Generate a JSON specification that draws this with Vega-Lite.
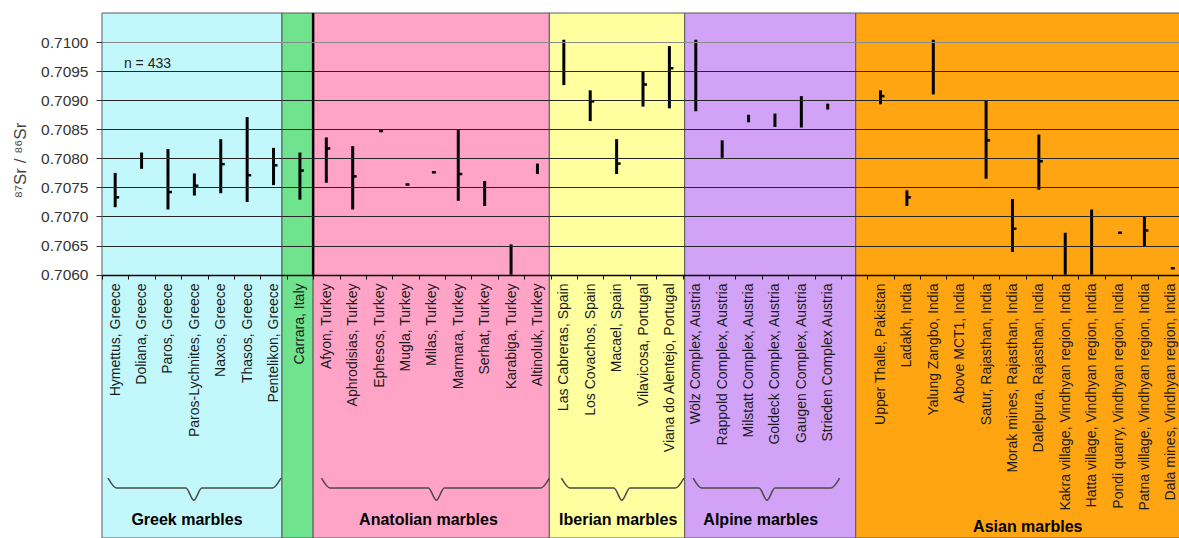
{
  "$schema": "https://vega.github.io/schema/vega-lite/v6.json",
  "width": 1077,
  "height": 525,
  "autosize": {"type": "none"},
  "padding": {"left": 102, "top": 13, "right": 0, "bottom": 0},
  "background": "white",
  "config": {"font": "Liberation Sans", "view": {"stroke": null}},
  "datasets": {
    "sites": [
      {"s": "Hymettus, Greece", "min": 0.70716, "max": 0.70775, "mean": 0.70733},
      {"s": "Doliana, Greece", "min": 0.70782, "max": 0.70810, "mean": null},
      {"s": "Paros, Greece", "min": 0.70712, "max": 0.70816, "mean": 0.70742},
      {"s": "Paros-Lychnites, Greece", "min": 0.70736, "max": 0.70774, "mean": 0.70753},
      {"s": "Naxos, Greece", "min": 0.70740, "max": 0.70833, "mean": 0.70790},
      {"s": "Thasos, Greece", "min": 0.70725, "max": 0.70871, "mean": 0.70771},
      {"s": "Pentelikon, Greece", "min": 0.70754, "max": 0.70818, "mean": 0.70788},
      {"s": "Carrara, Italy", "min": 0.70729, "max": 0.70810, "mean": 0.70779},
      {"s": "Afyon, Turkey", "min": 0.70758, "max": 0.70836, "mean": 0.70817},
      {"s": "Aphrodisias, Turkey", "min": 0.70712, "max": 0.70821, "mean": 0.70769},
      {"s": "Ephesos, Turkey", "min": null, "max": null, "mean": 0.70847},
      {"s": "Mugla, Turkey", "min": null, "max": null, "mean": 0.70755},
      {"s": "Milas, Turkey", "min": null, "max": null, "mean": 0.70776},
      {"s": "Marmara, Turkey", "min": 0.70727, "max": 0.70849, "mean": 0.70773},
      {"s": "Serhat, Turkey", "min": 0.70718, "max": 0.70761, "mean": null},
      {"s": "Karabiga, Turkey", "min": 0.70600, "max": 0.70652, "mean": null},
      {"s": "Altinoluk, Turkey", "min": 0.70773, "max": 0.70791, "mean": null},
      {"s": "Las Cabreras, Spain", "min": 0.70926, "max": 0.71004, "mean": null},
      {"s": "Los Covachos, Spain", "min": 0.70864, "max": 0.70917, "mean": 0.70898},
      {"s": "Macael, Spain", "min": 0.70773, "max": 0.70833, "mean": 0.70791},
      {"s": "Vilavicosa, Portugal", "min": 0.70889, "max": 0.70950, "mean": 0.70927},
      {"s": "Viana do Alentejo, Portugal", "min": 0.70886, "max": 0.70993, "mean": 0.70955},
      {"s": "Wölz Complex, Austria", "min": 0.70881, "max": 0.71004, "mean": null},
      {"s": "Rappold Complex, Austria", "min": 0.70801, "max": 0.70831, "mean": null},
      {"s": "Milstatt Complex, Austria", "min": 0.70862, "max": 0.70875, "mean": null},
      {"s": "Goldeck Complex, Austria", "min": 0.70854, "max": 0.70877, "mean": null},
      {"s": "Gaugen Complex, Austria", "min": 0.70853, "max": 0.70907, "mean": null},
      {"s": "Strieden Complex Austria", "min": 0.70884, "max": 0.70894, "mean": null},
      {"s": "Upper Thalle, Pakistan", "min": 0.70893, "max": 0.70917, "mean": 0.70907},
      {"s": "Ladakh, India", "min": 0.70718, "max": 0.70745, "mean": 0.70733},
      {"s": "Yalung Zangbo, India", "min": 0.70910, "max": 0.71004, "mean": null},
      {"s": "Above MCT1, India", "min": null, "max": null, "mean": null},
      {"s": "Satur, Rajasthan, India", "min": 0.70765, "max": 0.70900, "mean": 0.70831},
      {"s": "Morak mines, Rajasthan, India", "min": 0.70639, "max": 0.70730, "mean": 0.70679},
      {"s": "Dalelpura,  Rajasthan, India", "min": 0.70746, "max": 0.70841, "mean": 0.70795},
      {"s": "Kakra village, Vindhyan region, India", "min": 0.70600, "max": 0.70672, "mean": null},
      {"s": "Hatta village, Vindhyan region, India", "min": 0.70600, "max": 0.70712, "mean": null},
      {"s": "Pondi quarry, Vindhyan region, India", "min": null, "max": null, "mean": 0.70672},
      {"s": "Patna village, Vindhyan region, India", "min": 0.70649, "max": 0.70699, "mean": 0.70676},
      {"s": "Dala mines, Vindhyan region, India", "min": null, "max": null, "mean": 0.70611}
    ],
    "bands": [
      {"g": "Greek", "start": 0, "end": 6.82},
      {"g": "Carrara", "start": 6.82, "end": 8},
      {"g": "Anatolian", "start": 8, "end": 16.95},
      {"g": "Iberian", "start": 16.95, "end": 22.08},
      {"g": "Alpine", "start": 22.08, "end": 28.56},
      {"g": "Asian", "start": 28.56, "end": 41.5}
    ],
    "labels": [
      {"t": "Greek marbles", "x": 3.22, "y": 0.70178},
      {"t": "Anatolian marbles", "x": 12.37, "y": 0.70178},
      {"t": "Iberian marbles", "x": 19.56, "y": 0.70178},
      {"t": "Alpine marbles", "x": 24.96, "y": 0.70178},
      {"t": "Asian marbles", "x": 35.08, "y": 0.70166}
    ],
    "braces": [
      {"b": "Greek", "i": 0, "x": 0.23, "y": 0.70250},
      {"b": "Greek", "i": 1, "x": 0.55, "y": 0.70233},
      {"b": "Greek", "i": 2, "x": 3.18, "y": 0.70233},
      {"b": "Greek", "i": 3, "x": 3.48, "y": 0.70212},
      {"b": "Greek", "i": 4, "x": 3.78, "y": 0.70233},
      {"b": "Greek", "i": 5, "x": 6.46, "y": 0.70233},
      {"b": "Greek", "i": 6, "x": 6.78, "y": 0.70250},
      {"b": "Anatolian", "i": 0, "x": 8.32, "y": 0.70250},
      {"b": "Anatolian", "i": 1, "x": 8.64, "y": 0.70233},
      {"b": "Anatolian", "i": 2, "x": 12.37, "y": 0.70233},
      {"b": "Anatolian", "i": 3, "x": 12.67, "y": 0.70212},
      {"b": "Anatolian", "i": 4, "x": 12.97, "y": 0.70233},
      {"b": "Anatolian", "i": 5, "x": 16.63, "y": 0.70233},
      {"b": "Anatolian", "i": 6, "x": 16.95, "y": 0.70250},
      {"b": "Iberian", "i": 0, "x": 17.41, "y": 0.70250},
      {"b": "Iberian", "i": 1, "x": 17.73, "y": 0.70233},
      {"b": "Iberian", "i": 2, "x": 19.4, "y": 0.70233},
      {"b": "Iberian", "i": 3, "x": 19.7, "y": 0.70212},
      {"b": "Iberian", "i": 4, "x": 20.0, "y": 0.70233},
      {"b": "Iberian", "i": 5, "x": 21.73, "y": 0.70233},
      {"b": "Iberian", "i": 6, "x": 22.05, "y": 0.70250},
      {"b": "Alpine", "i": 0, "x": 22.4, "y": 0.70250},
      {"b": "Alpine", "i": 1, "x": 22.72, "y": 0.70233},
      {"b": "Alpine", "i": 2, "x": 24.9, "y": 0.70233},
      {"b": "Alpine", "i": 3, "x": 25.2, "y": 0.70212},
      {"b": "Alpine", "i": 4, "x": 25.5, "y": 0.70233},
      {"b": "Alpine", "i": 5, "x": 27.63, "y": 0.70233},
      {"b": "Alpine", "i": 6, "x": 27.95, "y": 0.70250}
    ]
  },
  "layer": [
    {
      "data": {"name": "bands"},
      "mark": {"type": "rect", "stroke": "#5a5a5a", "strokeWidth": 1},
      "encoding": {
        "x": {"field": "start", "type": "quantitative", "scale": {"domain": [0, 41], "range": [0, 1082], "nice": false, "zero": false}, "axis": null},
        "x2": {"field": "end"},
        "color": {
          "field": "g", "type": "nominal", "legend": null,
          "scale": {"domain": ["Greek", "Carrara", "Anatolian", "Iberian", "Alpine", "Asian"],
                    "range": ["#C2F8FB", "#6FE38E", "#FFA3C7", "#FFFF9F", "#D2A2F7", "#FFA511"]}
        }
      }
    },
    {
      "data": {"values": [{"x": 8, "top": 0.7105, "bottom": 0.7060}]},
      "mark": {"type": "rule", "color": "black", "strokeWidth": 2.5},
      "encoding": {
        "x": {"field": "x", "type": "quantitative", "scale": {"domain": [0, 41], "range": [0, 1082], "nice": false, "zero": false}, "axis": null},
        "y": {"field": "top", "type": "quantitative", "title": "⁸⁷Sr / ⁸⁶Sr"},
        "y2": {"field": "bottom"}
      }
    },
    {
      "data": {"name": "braces"},
      "mark": {"type": "line", "color": "#4a4a4a", "strokeWidth": 1.5, "interpolate": "monotone"},
      "encoding": {
        "x": {"field": "x", "type": "quantitative", "scale": {"domain": [0, 41], "range": [0, 1082], "nice": false, "zero": false}, "axis": null},
        "y": {"field": "y", "type": "quantitative", "title": "⁸⁷Sr / ⁸⁶Sr"},
        "detail": {"field": "b"},
        "order": {"field": "i"}
      }
    },
    {
      "data": {"name": "labels"},
      "mark": {"type": "text", "fontSize": 16, "fontWeight": "bold", "color": "black", "align": "center", "baseline": "middle"},
      "encoding": {
        "x": {"field": "x", "type": "quantitative", "scale": {"domain": [0, 41], "range": [0, 1082], "nice": false, "zero": false}, "axis": null},
        "y": {"field": "y", "type": "quantitative", "title": "⁸⁷Sr / ⁸⁶Sr"},
        "text": {"field": "t"}
      }
    },
    {
      "data": {"values": [{"t": "n = 433", "x": 0.83, "y": 0.70963}]},
      "mark": {"type": "text", "fontSize": 14, "color": "#222", "align": "left", "baseline": "middle"},
      "encoding": {
        "x": {"field": "x", "type": "quantitative", "scale": {"domain": [0, 41], "range": [0, 1082], "nice": false, "zero": false}, "axis": null},
        "y": {"field": "y", "type": "quantitative", "title": "⁸⁷Sr / ⁸⁶Sr"},
        "text": {"field": "t"}
      }
    },
    {
      "data": {"name": "sites"},
      "transform": [{"filter": "datum.min != null"}],
      "mark": {"type": "rule", "color": "black", "strokeWidth": 3},
      "encoding": {
        "x": {
          "field": "s", "type": "nominal", "sort": null,
          "scale": {
            "domain": ["Hymettus, Greece", "Doliana, Greece", "Paros, Greece", "Paros-Lychnites, Greece", "Naxos, Greece", "Thasos, Greece", "Pentelikon, Greece", "Carrara, Italy", "Afyon, Turkey", "Aphrodisias, Turkey", "Ephesos, Turkey", "Mugla, Turkey", "Milas, Turkey", "Marmara, Turkey", "Serhat, Turkey", "Karabiga, Turkey", "Altinoluk, Turkey", "Las Cabreras, Spain", "Los Covachos, Spain", "Macael, Spain", "Vilavicosa, Portugal", "Viana do Alentejo, Portugal", "Wölz Complex, Austria", "Rappold Complex, Austria", "Milstatt Complex, Austria", "Goldeck Complex, Austria", "Gaugen Complex, Austria", "Strieden Complex Austria", " ", "Upper Thalle, Pakistan", "Ladakh, India", "Yalung Zangbo, India", "Above MCT1, India", "Satur, Rajasthan, India", "Morak mines, Rajasthan, India", "Dalelpura,  Rajasthan, India", "Kakra village, Vindhyan region, India", "Hatta village, Vindhyan region, India", "Pondi quarry, Vindhyan region, India", "Patna village, Vindhyan region, India", "Dala mines, Vindhyan region, India"],
            "range": [0, 1082],
            "paddingInner": 0, "paddingOuter": 0
          },
          "axis": {
            "title": null, "orient": "bottom", "offset": -263, "zindex": 1,
            "labelAngle": -90, "labelFontSize": 14, "labelColor": "#1a1a1a", "labelLimit": 400,
            "labelOverlap": false, "labelPadding": 4, "labelFont": "Liberation Sans",
            "tickBand": "extent", "tickSize": 4, "tickColor": "black", "tickWidth": 1,
            "domainColor": "black", "domainWidth": 1.5, "grid": false
          }
        },
        "y": {
          "field": "min", "type": "quantitative",
          "title": "⁸⁷Sr / ⁸⁶Sr",
          "scale": {"domain": [0.70147, 0.7105], "nice": false, "zero": false},
          "axis": {
            "values": [0.706, 0.7065, 0.707, 0.7075, 0.708, 0.7085, 0.709, 0.7095, 0.71],
            "format": ".4f", "zindex": 1, "domain": false,
            "grid": true, "gridColor": {"condition": {"test": "datum.value > 0.70999", "value": "#8a8a8a"}, "value": "#262626"}, "gridWidth": 1.2,
            "tickColor": "#333", "tickSize": 6, "labelFontSize": 15.5, "labelColor": "#333", "labelPadding": 8,
            "titleFontSize": 17, "titleFontWeight": "normal", "titleColor": "#444",
            "titleX": -82, "titleY": 147, "titleAlign": "center", "titleBaseline": "middle", "titleAngle": -90
          }
        },
        "y2": {"field": "max"}
      }
    },
    {
      "data": {"name": "sites"},
      "transform": [{"filter": "datum.mean != null"}],
      "mark": {"type": "tick", "orient": "horizontal", "size": 4, "thickness": 2.5, "xOffset": 2, "color": "black", "opacity": 1},
      "encoding": {
        "x": {
          "field": "s", "type": "nominal", "sort": null,
          "scale": {
            "domain": ["Hymettus, Greece", "Doliana, Greece", "Paros, Greece", "Paros-Lychnites, Greece", "Naxos, Greece", "Thasos, Greece", "Pentelikon, Greece", "Carrara, Italy", "Afyon, Turkey", "Aphrodisias, Turkey", "Ephesos, Turkey", "Mugla, Turkey", "Milas, Turkey", "Marmara, Turkey", "Serhat, Turkey", "Karabiga, Turkey", "Altinoluk, Turkey", "Las Cabreras, Spain", "Los Covachos, Spain", "Macael, Spain", "Vilavicosa, Portugal", "Viana do Alentejo, Portugal", "Wölz Complex, Austria", "Rappold Complex, Austria", "Milstatt Complex, Austria", "Goldeck Complex, Austria", "Gaugen Complex, Austria", "Strieden Complex Austria", " ", "Upper Thalle, Pakistan", "Ladakh, India", "Yalung Zangbo, India", "Above MCT1, India", "Satur, Rajasthan, India", "Morak mines, Rajasthan, India", "Dalelpura,  Rajasthan, India", "Kakra village, Vindhyan region, India", "Hatta village, Vindhyan region, India", "Pondi quarry, Vindhyan region, India", "Patna village, Vindhyan region, India", "Dala mines, Vindhyan region, India"],
            "range": [0, 1082],
            "paddingInner": 0, "paddingOuter": 0
          },
          "axis": null
        },
        "y": {"field": "mean", "type": "quantitative", "title": "⁸⁷Sr / ⁸⁶Sr"}
      }
    }
  ],
  "resolve": {"scale": {"x": "independent"}}
}
